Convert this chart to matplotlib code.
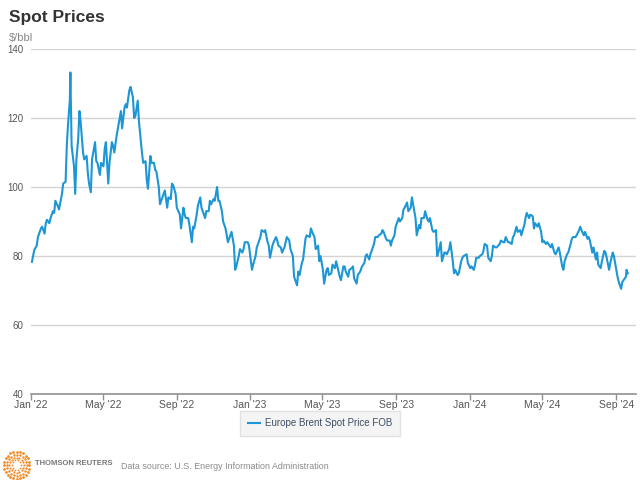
import numpy as np
import pandas as pd
import matplotlib
matplotlib.use("Agg")
import matplotlib.pyplot as plt

plt.rcParams['font.family'] = ['Liberation Sans', 'DejaVu Sans']

# Europe Brent spot price, $/bbl
dates_2022 = ["01-03","01-05","01-07","01-11","01-13","01-18","01-20","01-24","01-26","01-28",
              "02-01","02-03","02-07","02-09","02-11","02-15","02-17","02-22","02-24","02-28",
              "03-02","03-04","03-07","03-08","03-10","03-14","03-16","03-18","03-21","03-23",
              "03-25","03-29","03-31","04-04","04-06","04-08","04-11","04-13","04-18","04-20",
              "04-22","04-26","04-28","05-02","05-04","05-06","05-10","05-12","05-16","05-18",
              "05-20","05-24","05-26","05-31","06-02","06-06","06-08","06-10","06-14","06-16",
              "06-20","06-22","06-24","06-28","06-30","07-05","07-07","07-11","07-13","07-15",
              "07-19","07-21","07-25","07-27","07-29","08-02","08-04","08-08","08-10","08-12",
              "08-16","08-18","08-22","08-24","08-26","08-30","09-01","09-06","09-08","09-12",
              "09-14","09-16","09-20","09-22","09-26","09-28","09-30","10-04","10-06","10-10",
              "10-12","10-14","10-18","10-20","10-24","10-26","10-28","11-01","11-03","11-07",
              "11-09","11-11","11-15","11-17","11-21","11-23","11-25","11-29","12-01","12-05",
              "12-07","12-09","12-13","12-15","12-19","12-21","12-23","12-28","12-30"]
price_2022 = [78.3, 80.0, 81.8, 83.0, 85.5, 88.0, 88.5, 86.5, 89.5, 90.5,
              89.5, 91.0, 93.0, 92.5, 96.0, 94.5, 93.5, 98.0, 101.0, 101.5,
              112.0, 118.0, 125.0, 133.2, 112.0, 106.0, 98.0, 108.0, 114.0, 122.0,
              119.0, 110.0, 108.0, 109.0, 104.0, 101.0, 98.5, 108.0, 113.0, 107.5,
              107.0, 103.5, 107.0, 106.0, 111.0, 113.0, 101.0, 107.0, 113.0, 112.0,
              110.0, 115.0, 117.0, 122.0, 117.0, 123.0, 124.0, 123.0, 128.0, 129.0,
              126.0, 120.0, 120.5, 125.0, 119.0, 110.0, 107.0, 107.5, 102.0, 99.5,
              109.0, 107.0, 107.0, 105.0, 104.5, 100.0, 95.0, 97.0, 98.0, 99.0,
              94.0, 97.0, 96.5, 101.0, 100.5, 98.0, 94.0, 92.0, 88.0, 94.0,
              92.0, 91.0, 91.0, 89.0, 84.0, 88.5, 88.0, 92.0, 94.5, 97.0,
              94.0, 93.0, 91.0, 93.0, 93.0, 96.0, 95.0, 96.5, 96.0, 100.0,
              96.0, 96.0, 93.0, 90.0, 88.0, 86.0, 84.0, 86.0, 87.0, 83.0,
              76.0, 77.0, 80.0, 82.0, 81.0, 82.0, 84.0, 84.0, 83.0]

dates_2023 = ["01-04","01-06","01-10","01-12","01-16","01-18","01-20","01-24","01-26","01-30",
              "02-01","02-03","02-07","02-09","02-13","02-15","02-17","02-21","02-23","02-27",
              "03-01","03-03","03-07","03-09","03-13","03-15","03-17","03-20","03-22","03-24",
              "03-28","03-30","04-03","04-05","04-10","04-12","04-14","04-18","04-20","04-24",
              "04-26","04-28","05-02","05-04","05-08","05-10","05-12","05-16","05-18","05-22",
              "05-24","05-26","05-30","06-01","06-05","06-07","06-09","06-13","06-15","06-19",
              "06-21","06-23","06-27","06-29","07-03","07-06","07-10","07-12","07-14","07-18",
              "07-20","07-24","07-26","07-28","08-01","08-03","08-07","08-09","08-11","08-15",
              "08-17","08-21","08-23","08-25","08-29","08-31","09-05","09-07","09-11","09-13",
              "09-15","09-19","09-21","09-25","09-27","09-29","10-03","10-05","10-09","10-11",
              "10-13","10-17","10-19","10-23","10-25","10-27","10-31","11-02","11-06","11-08",
              "11-10","11-14","11-16","11-20","11-22","11-24","11-28","11-30","12-04","12-06",
              "12-08","12-12","12-14","12-18","12-20","12-22","12-27","12-29"]
price_2023 = [76.0, 77.5, 80.0, 82.5, 84.5, 85.5, 87.5, 87.0, 87.5, 84.0,
              83.0, 79.5, 83.0, 84.0, 85.5, 84.5, 83.0, 82.5, 81.0, 82.5,
              84.0, 85.5, 84.5, 82.0, 80.0, 74.0, 73.0, 71.5, 75.5, 74.5,
              78.0, 79.0, 85.0, 86.0, 85.5, 88.0, 87.0, 85.5, 82.0, 83.0,
              78.5, 80.0, 76.0, 72.0, 76.0, 76.5, 74.5, 75.0, 77.5, 76.5,
              78.5, 77.0, 74.0, 73.0, 77.0, 77.0, 75.5, 74.0, 76.0, 76.5,
              77.0, 73.5, 72.0, 74.5, 75.5, 77.0, 78.0, 80.0, 80.5, 79.0,
              80.5, 82.5, 83.5, 85.5, 85.5, 86.0, 86.5, 87.5, 87.0, 85.0,
              84.5, 84.5, 83.0, 84.5, 86.0, 88.5, 91.0, 90.0, 91.0, 93.5,
              94.0, 95.5, 93.0, 94.0, 97.0, 95.0, 91.0, 86.0, 89.0, 88.0,
              91.0, 91.0, 93.0, 90.5, 90.0, 91.0, 87.5, 87.0, 87.5, 80.0,
              81.0, 84.0, 78.5, 81.0, 81.0, 80.5, 82.0, 84.0, 78.5, 75.0,
              76.0, 74.5, 75.0, 78.5, 79.5, 80.0, 80.5, 78.0]

dates_2024 = ["01-02","01-04","01-08","01-10","01-12","01-16","01-18","01-22","01-24","01-26",
              "01-30","02-01","02-05","02-07","02-09","02-13","02-15","02-20","02-22","02-26",
              "02-28","03-01","03-05","03-07","03-11","03-13","03-15","03-19","03-21","03-25",
              "03-27","04-01","04-03","04-05","04-09","04-11","04-15","04-17","04-19","04-23",
              "04-25","04-29","05-01","05-03","05-07","05-09","05-13","05-15","05-17","05-21",
              "05-23","05-28","05-30","06-03","06-05","06-07","06-11","06-13","06-17","06-19",
              "06-21","06-25","06-27","07-01","07-03","07-05","07-09","07-11","07-15","07-17",
              "07-19","07-23","07-25","07-29","07-31","08-02","08-06","08-08","08-12","08-14",
              "08-16","08-20","08-22","08-26","08-28","08-30","09-03","09-05","09-09","09-11",
              "09-13","09-17","09-18","09-20"]
price_2024 = [76.5, 77.0, 76.0, 77.5, 79.5, 79.5, 80.0, 80.5, 81.5, 83.5,
              83.0, 79.5, 78.5, 80.0, 83.0, 82.5, 82.5, 83.5, 84.5, 84.0,
              84.0, 85.5, 84.0, 84.0, 83.5, 85.5, 86.0, 88.5, 87.0, 87.5,
              86.0, 89.0, 91.0, 92.5, 91.0, 92.0, 91.5, 88.0, 89.5, 88.5,
              89.5, 87.0, 84.0, 84.5, 83.5, 84.0, 83.0, 82.5, 83.5, 81.0,
              80.5, 82.5, 81.0, 77.0, 76.0, 78.5, 80.5, 81.0, 83.5, 85.0,
              85.5, 85.5, 86.0, 87.5, 88.5, 87.5, 86.0, 87.0, 85.0, 85.5,
              84.5, 81.0, 82.5, 79.0, 81.0, 77.5, 76.5, 78.5, 81.5, 81.0,
              79.5, 76.0, 78.0, 81.0, 80.0, 78.0, 74.0, 72.5, 70.5, 72.5,
              73.0, 74.0, 76.0, 75.0]

dates = pd.to_datetime(["2022-" + d for d in dates_2022] +
                       ["2023-" + d for d in dates_2023] +
                       ["2024-" + d for d in dates_2024])
prices = price_2022 + price_2023 + price_2024

yticks = [40, 60, 80, 100, 120, 140]
xtick_dates = pd.to_datetime(["2022-01-01", "2022-05-01", "2022-09-01", "2023-01-01", "2023-05-01",
                              "2023-09-01", "2024-01-01", "2024-05-01", "2024-09-01"])
xtick_labels = ["Jan '22", "May '22", "Sep '22", "Jan '23", "May '23",
                "Sep '23", "Jan '24", "May '24", "Sep '24"]

fig = plt.figure(figsize=(6.4, 4.8), dpi=100)
ax = fig.add_axes([0.048, 0.179, 0.946, 0.719])

for y in yticks[1:]:
    ax.axhline(y, color='#d4d4d4', lw=1, zorder=1)
ax.plot(dates, prices, color='#1c96d4', lw=1.5, zorder=3, label='Europe Brent Spot Price FOB')

ax.set_ylim(40, 140)
ax.set_xlim(pd.Timestamp("2022-01-01"), pd.Timestamp("2024-10-04"))
ax.set_yticks(yticks)
ax.set_yticklabels([str(v) for v in yticks])
ax.set_xticks(xtick_dates)
ax.set_xticklabels(xtick_labels)

for s in ['top', 'right', 'left']:
    ax.spines[s].set_visible(False)
ax.spines['bottom'].set_color('#909090')
ax.spines['bottom'].set_linewidth(1.2)
ax.tick_params(axis='y', length=0, pad=5, labelsize=7, labelcolor='#555555')
ax.tick_params(axis='x', length=4, width=1, color='#909090', pad=0.5,
               labelsize=7.5, labelcolor='#555555')

fig.text(0.014, 0.964, "Spot Prices", fontsize=12.5, fontweight='bold', color='#333333', va='center')
fig.text(0.014, 0.921, "$/bbl", fontsize=8, color='#888888', va='center')

leg = fig.legend(loc='center', bbox_to_anchor=(0.5, 0.118), fontsize=7, frameon=True,
                 fancybox=False, handlelength=1.2, handletextpad=0.5, borderpad=0.8)
leg.get_frame().set_facecolor('#f2f2f2')
leg.get_frame().set_edgecolor('#dcdcdc')
for t in leg.get_texts():
    t.set_color('#3d4f63')

# Thomson Reuters logo (dotted orange ring)
lax = fig.add_axes([0.004, 0.0, 0.044, 0.062])
lax.set_xlim(-1.1, 1.1)
lax.set_ylim(-1.1, 1.1)
lax.axis('off')
for r, n, s in [(1.0, 24, 4.0), (0.78, 20, 3.2), (0.56, 16, 2.5), (0.36, 10, 1.6)]:
    a = np.linspace(0, 2 * np.pi, n, endpoint=False)
    lax.scatter(r * np.cos(a), r * np.sin(a), s=s, color='#f28c28', lw=0)

fig.text(0.055, 0.035, "THOMSON REUTERS", fontsize=5.5, fontweight='bold', color='#777777', va='center')
fig.text(0.189, 0.029, "Data source: U.S. Energy Information Administration", fontsize=6.4,
         color='#8a8a8a', va='center')

fig.savefig("out.png", dpi=100)
